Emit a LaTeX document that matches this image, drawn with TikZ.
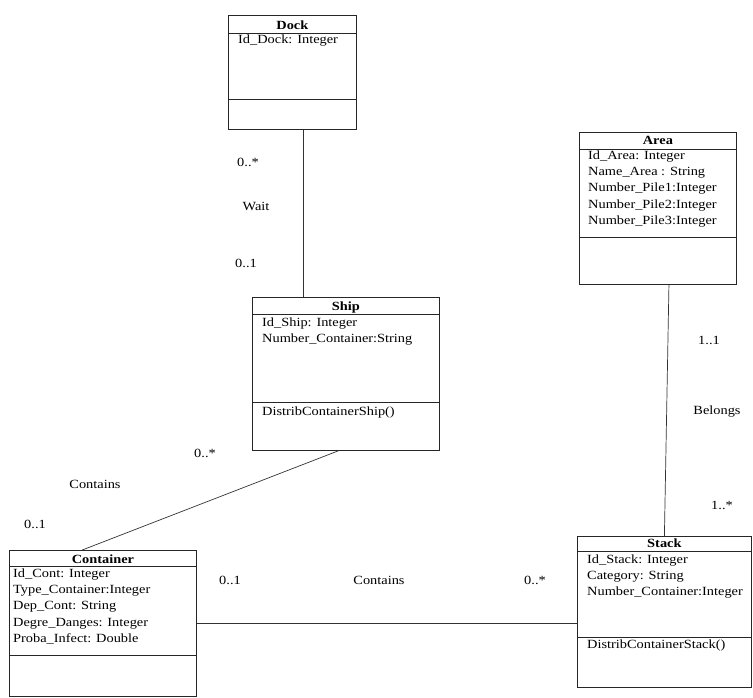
\documentclass[tikz,border=0pt]{standalone}
\usepackage{fontspec}
\setmainfont{Liberation Serif}[FakeStretch=1.15]
\usetikzlibrary{positioning}
\usetikzlibrary{calc}

\tikzset{
  classbox/.style={draw=black!85, line width=0.8pt, inner sep=0pt, anchor=north west},
  classline/.style={draw=black!85, line width=0.8pt},
  ctitle/.style={anchor=base, inner sep=0pt, font=\fontsize{12.5}{15}\selectfont\bfseries},
  attr/.style={anchor=base west, inner sep=0pt, font=\fontsize{12.5}{15}\selectfont},
  assoc/.style={draw=black!80, line width=0.7pt},
  lbl/.style={inner sep=0pt, font=\fontsize{12.5}{15}\selectfont},
}

\begin{document}
\begin{tikzpicture}[x=1pt, y=-1pt]

	\useasboundingbox (0,0) rectangle (753,697);

	\def\dl{16.4};

	% Dock
	\node[classbox, minimum width=128pt, minimum height=114pt] (dock) at (228,15) {};
	\draw[classline] ($(dock.north west)+(0,18)$) -- ($(dock.north east)+(0,18)$);
	\draw[classline] ($(dock.north west)+(0,84)$) -- ($(dock.north east)+(0,84)$);
	\node[ctitle] (dockT) at ($(dock.north)+(0,14)$) {Dock};
	\foreach \i/\txt in {0/Id\_Dock: Integer} {
		\node[attr] (dockA\i) at (238, 43+\i*\dl) {\txt};
	}

	% Area
	\node[classbox, minimum width=157pt, minimum height=152pt] (area) at (579,132) {};
	\draw[classline] ($(area.north west)+(0,17)$) -- ($(area.north east)+(0,17)$);
	\draw[classline] ($(area.north west)+(0,105)$) -- ($(area.north east)+(0,105)$);
	\node[ctitle] (areaT) at ($(area.north)+(0,12)$) {Area};
	\foreach \i/\txt in {0/Id\_Area: Integer, 1/Name\_Area : String, 2/Number\_Pile1:Integer,
	                     3/Number\_Pile2:Integer, 4/Number\_Pile3:Integer} {
		\node[attr] (areaA\i) at (588, 159+\i*\dl) {\txt};
	}

	% Ship
	\node[classbox, minimum width=187pt, minimum height=153pt] (ship) at (252,297) {};
	\draw[classline] ($(ship.north west)+(0,17)$) -- ($(ship.north east)+(0,17)$);
	\draw[classline] ($(ship.north west)+(0,105)$) -- ($(ship.north east)+(0,105)$);
	\node[ctitle] (shipT) at ($(ship.north)+(0,13)$) {Ship};
	\foreach \i/\txt in {0/Id\_Ship: Integer, 1/Number\_Container:String} {
		\node[attr] (shipA\i) at (262, 326+\i*\dl) {\txt};
	}
	\node[attr] (shipM) at (262, 415) {DistribContainerShip()};

	% Container
	\node[classbox, minimum width=187pt, minimum height=146pt] (container) at (9,550) {};
	\draw[classline] ($(container.north west)+(0,16)$) -- ($(container.north east)+(0,16)$);
	\draw[classline] ($(container.north west)+(0,105)$) -- ($(container.north east)+(0,105)$);
	\node[ctitle] (containerT) at ($(container.north)+(0,13)$) {Container};
	\foreach \i/\txt in {0/Id\_Cont: Integer, 1/Type\_Container:Integer, 2/Dep\_Cont: String,
	                     3/Degre\_Danges: Integer, 4/Proba\_Infect: Double} {
		\node[attr] (containerA\i) at (13, 577+\i*\dl) {\txt};
	}

	% Stack
	\node[classbox, minimum width=174pt, minimum height=151pt] (stack) at (577,536) {};
	\draw[classline] ($(stack.north west)+(0,15)$) -- ($(stack.north east)+(0,15)$);
	\draw[classline] ($(stack.north west)+(0,101)$) -- ($(stack.north east)+(0,101)$);
	\node[ctitle] (stackT) at ($(stack.north)+(0,11)$) {Stack};
	\foreach \i/\txt in {0/Id\_Stack: Integer, 1/Category: String, 2/Number\_Container:Integer} {
		\node[attr] (stackA\i) at (587, 563+\i*\dl) {\txt};
	}
	\node[attr] (stackM) at (587, 648) {DistribContainerStack()};

	% associations
	\coordinate (dockS) at ($(dock.south west)!0.586!(dock.south east)$);
	\coordinate (shipS) at ($(ship.south west)!0.46!(ship.south east)$);
	\coordinate (containerN) at ($(container.north west)!0.39!(container.north east)$);
	\coordinate (areaS) at ($(area.south west)!0.57!(area.south east)$);

	\draw[assoc] (dockS) -- (dockS |- ship.north);
	\draw[assoc] (shipS) -- (containerN);
	\draw[assoc] (areaS) -- (stack.north);
	\draw[assoc] (container.east) -- (container.east -| stack.west);

	% multiplicities and roles
	\node[lbl] (waitM1) at (248,162) {0..*};
	\node[lbl] (waitR) at (256,206) {Wait};
	\node[lbl] (waitM2) at (246,263) {0..1};

	\node[lbl] (belM1) at (709,340) {1..1};
	\node[lbl] (belR) at (717,412) {Belongs};
	\node[lbl] (belM2) at (722,505) {1..*};

	\node[lbl] (contM1) at (205,453) {0..*};
	\node[lbl] (contR) at (95,484) {Contains};
	\node[lbl] (contM2) at (35,524) {0..1};

	\node[lbl] (stkM1) at (230,580) {0..1};
	\node[lbl] (stkR) at (379,580) {Contains};
	\node[lbl] (stkM2) at (535,580) {0..*};

\end{tikzpicture}
\end{document}
